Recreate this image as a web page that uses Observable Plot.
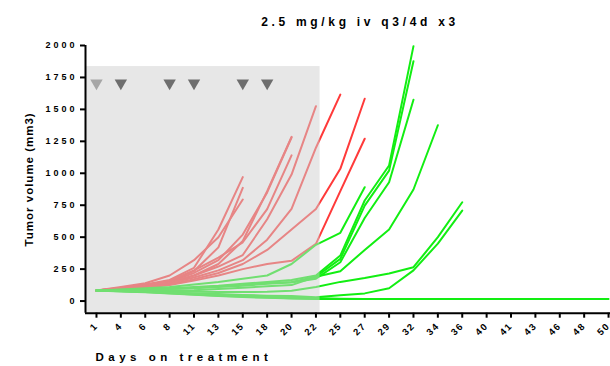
<!DOCTYPE html>
<html><head><meta charset="utf-8">
<script src="https://cdn.jsdelivr.net/npm/d3@7"></script>
<script src="https://cdn.jsdelivr.net/npm/@observablehq/plot@0.6"></script>
<style>
body{margin:0;background:#fff}
svg text{font-family:"Liberation Sans",Arial,sans-serif;font-weight:bold;fill:#000}
</style></head><body><div id="chart"></div>
<script>
// Categorical day labels on the x axis (evenly spaced)
const days = [1,4,6,8,11,13,15,18,20,22,25,27,29,32,34,36,40,41,43,46,48,50];
const yTicks = [0,250,500,750,1000,1250,1500,1750,2000];
const dosingDays = [1,4,8,11,15,18];
const dosingMarkerLevel = 1705;
const treatmentEndDay = 22;
const treatmentShadeTop = 1835;
const title = "2.5 mg/kg iv q3/4d x3";
const yLabel = "Tumor volume (mm3)";
const xLabel = "Days on treatment";

// Control group (red) – values per day, starting at day 1
const r1 = [82,105,130,165,260,560,970];
const r2 = [82,100,125,155,235,420,886];
const r3 = [82,110,140,200,320,500,795];
const r4 = [82,100,120,150,220,320,520,850,1280];
const r5 = [82,95,115,140,200,290,470,860,1285];
const r6 = [82,100,125,160,240,340,460,720,1140];
const r7 = [82,100,120,150,200,270,360,640,990,1525];
const r8 = [82,95,115,140,185,240,320,480,722,1200,1616];
const r9 = [82,95,110,130,170,220,290,400,560,720,1035,1583];
const r10 = [82,92,105,125,160,200,250,290,315,448,860,1270];
// Treated group (green)
const g1 = [82,90,100,110,130,150,175,200,290,440,534,891];
const g2 = [82,88,95,100,110,120,135,150,165,200,356,787,1061,1995];
const g3 = [82,85,90,95,105,115,125,140,150,190,330,747,1021,1877];
const g4 = [82,85,90,95,100,110,120,135,145,175,304,650,930,1575];
const g5 = [82,80,80,82,85,95,105,115,125,190,233,400,560,873,1376];
const g6 = [82,80,78,75,72,70,70,72,80,110,150,180,215,265,500,773];
const g7 = [82,78,72,68,60,55,48,42,40,30,45,60,100,240,450,708];
const g8 = [82,75,68,60,50,40,32,25,20,17,17,17,17,17,17,17,17,17,17,17,17,17];
const g9 = [82,76,70,62,52,42,35,28,22,18,17,17,17,17,17,17];
const g10 = [82,78,72,65,58,50,44,38,30,22,18,17,17];

const control = [r1,r2,r3,r4,r5,r6,r7,r8,r9,r10];
const treated = [g1,g2,g3,g4,g5,g6,g7,g8,g9,g10];

const rows = [];
control.forEach((s,k)=>s.forEach((v,i)=>rows.push({id:"c"+k, group:"control", i, v})));
treated.forEach((s,k)=>s.forEach((v,i)=>rows.push({id:"t"+k, group:"treated", i, v})));

const idx = d => days.indexOf(d);
const tickIdx = days.map((d,i)=>i);

const chart = Plot.plot({
  width: 610, height: 366,
  marginLeft: 85, marginRight: 0, marginTop: 45, marginBottom: 53.3,
  x: {type: "linear", domain: [-0.45, 21.08], axis: null},
  y: {type: "linear", domain: [-95, 2000], axis: null},
  marks: [
    Plot.line(rows, {x: "i", y: "v", z: "id",
      stroke: d => d.group === "control" ? "#ff3a3a" : "#12ee12",
      strokeWidth: 2, curve: "linear"}),
    Plot.rect([treatmentEndDay], {x1: -0.45, x2: d => idx(d) + 0.17, y1: -95, y2: treatmentShadeTop,
      fill: "#d0d0d0", fillOpacity: 0.5}),
    Plot.dot(dosingDays, {x: d => idx(d), y: dosingMarkerLevel, symbol: "triangle", rotate: 180, r: 4.6,
      fill: (d,i) => i === 0 ? "#a6a6a6" : "#6e6e6e", stroke: null}),
    Plot.ruleX([-0.45], {stroke: "#000", strokeWidth: 2, y1: -95, y2: 2000}),
    Plot.ruleY([-95], {stroke: "#000", strokeWidth: 2}),
    Plot.axisY(yTicks, {anchor: "left", tickSize: 5, tickPadding: 3, fontSize: 9, strokeWidth: 2, label: null, stroke: "#000",
      tickFormat: d => String(d)}),
    Plot.axisX(tickIdx, {anchor: "bottom", tickSize: 5, tickPadding: 6, tickRotate: -45, fontSize: 9.5, strokeWidth: 2,
      tickFormat: i => String(days[i]), label: null, stroke: "#000"}),
    Plot.text([title], {frameAnchor: "top", dx: 12, dy: -28, fontSize: 12}),
    Plot.text([yLabel], {frameAnchor: "left", textAnchor: "middle", rotate: -90, dx: -56, fontSize: 11.5}),
    Plot.text([xLabel], {frameAnchor: "bottom-left", textAnchor: "start", dx: 10, dy: 48, fontSize: 11.5})
  ]
});
document.getElementById("chart").appendChild(chart);
const svg = d3.select(chart);
svg.selectAll('g[aria-label="y-axis tick label"] text').style("letter-spacing", "3px");
svg.selectAll('g[aria-label="x-axis tick label"] text').style("letter-spacing", "1.6px");
svg.selectAll("text").each(function(){
  const t = this.textContent;
  if (t === title) d3.select(this).style("letter-spacing", "3.7px");
  if (t === yLabel) d3.select(this).style("letter-spacing", "1px");
  if (t === xLabel) d3.select(this).style("letter-spacing", "4.5px");
});
</script></body></html>
